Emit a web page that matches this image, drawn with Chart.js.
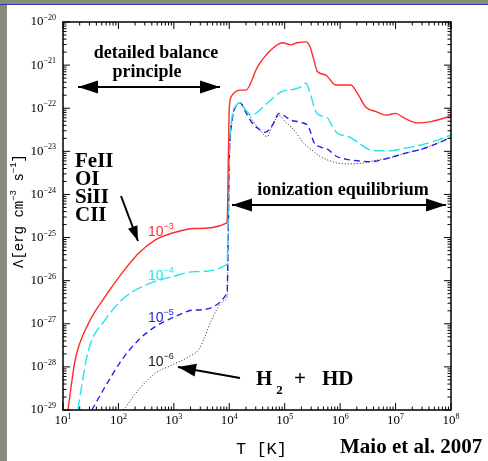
<!DOCTYPE html>
<html>
<head>
<meta charset="utf-8">
<script src="https://cdn.jsdelivr.net/npm/chart.js@4.4.1/dist/chart.umd.min.js"></script>
<style>
  html, body { margin: 0; padding: 0; background: #fff; }
  #wrap { position: relative; width: 488px; height: 461px; overflow: hidden; }
  #stripL { position: absolute; left: 0; top: 0; width: 7px; height: 461px; background: #8a8a7c; }
  #stripT { position: absolute; left: 0; top: 0; width: 488px; height: 4px; background: #8a8a7c; border-bottom: 1px solid #2a3aa8; }
  canvas { position: absolute; left: 0; top: 0; }
</style>
</head>
<body>
<div id="wrap">
  <div id="stripL"></div>
  <div id="stripT"></div>
  <canvas id="cooling" width="488" height="461"></canvas>
</div>
<script>
// values are log10(T [K]) and log10(Lambda [erg cm^-3 s^-1])
let xTicks = [1, 2, 3, 4, 5, 6, 7, 8]
let yTicks = [-20, -21, -22, -23, -24, -25, -26, -27, -28, -29]

let redT = [1.09, 1.22, 1.46, 1.76, 2.06, 2.36, 2.66, 2.96, 3.38, 3.96, 3.985, 4.0, 4.04, 4.10, 4.19, 4.30, 4.51, 4.75, 4.96, 5.11, 5.23, 5.38, 5.45, 5.52, 5.59, 5.74, 5.92, 6.19, 6.31, 6.46, 6.65, 6.83, 7.00, 7.16, 7.40, 7.64, 8.0]
let redL = [-29, -27.84, -26.99, -26.37, -25.83, -25.37, -25.06, -24.90, -24.79, -24.66, -23.0, -22.0, -21.72, -21.63, -21.58, -21.58, -21.04, -20.65, -20.48, -20.53, -20.48, -20.46, -20.55, -20.85, -21.15, -21.23, -21.46, -21.46, -21.65, -21.97, -22.08, -22.16, -22.12, -22.23, -22.34, -22.31, -22.18]

let cyanT = [1.265, 1.46, 1.76, 2.06, 2.36, 2.66, 2.96, 3.38, 3.96, 3.985, 4.0, 4.05, 4.12, 4.19, 4.30, 4.40, 4.50, 4.63, 4.80, 4.93, 5.04, 5.17, 5.30, 5.38, 5.47, 5.55, 5.62, 5.77, 5.85, 5.95, 6.16, 6.34, 6.55, 6.86, 7.16, 7.46, 7.76, 8.0]
let cyanL = [-29, -27.61, -26.91, -26.45, -26.18, -26.02, -25.91, -25.79, -25.62, -24.0, -23.0, -22.2, -21.95, -21.87, -22.05, -22.16, -22.10, -21.95, -21.75, -21.62, -21.58, -21.56, -21.50, -21.42, -21.70, -22.05, -22.16, -22.22, -22.40, -22.58, -22.66, -22.81, -22.97, -22.99, -22.93, -22.85, -22.74, -22.62]

let blueT = [1.52, 1.76, 2.06, 2.36, 2.66, 2.96, 3.38, 3.96, 3.985, 4.0, 4.05, 4.12, 4.19, 4.30, 4.40, 4.55, 4.65, 4.78, 4.90, 5.0, 5.10, 5.30, 5.43, 5.53, 5.65, 5.77, 5.94, 6.10, 6.31, 6.55, 6.86, 7.16, 7.52, 8.0]
let blueL = [-29, -28.46, -27.84, -27.38, -27.07, -26.87, -26.68, -26.29, -24.5, -23.2, -22.3, -21.95, -21.87, -22.10, -22.32, -22.50, -22.56, -22.39, -22.12, -22.18, -22.27, -22.33, -22.43, -22.80, -22.90, -22.95, -23.12, -23.18, -23.22, -23.24, -23.16, -23.05, -22.93, -22.68]

let blackT = [2.09, 2.36, 2.66, 2.96, 3.26, 3.44, 3.56, 3.68, 3.92, 3.96, 3.985, 4.0, 4.05, 4.12, 4.19, 4.30, 4.43, 4.55, 4.68, 4.78, 4.90, 5.0, 5.17, 5.34, 5.47, 5.64, 5.77, 6.07, 6.37, 6.67, 6.86, 7.16, 7.52, 8.0]
let blackL = [-29, -28.54, -28.15, -27.96, -27.77, -27.61, -27.30, -26.91, -26.45, -26.40, -24.8, -23.4, -22.3, -21.95, -21.87, -22.05, -22.30, -22.50, -22.66, -22.39, -22.17, -22.30, -22.51, -22.81, -22.95, -23.12, -23.20, -23.29, -23.28, -23.20, -23.16, -23.05, -22.93, -22.68]

let metallicity = ['-3', '-4', '-5', '-6']
let colRed = '#ff2b2b', colCyan = '#22e4f0', colBlue = '#2323e6', colBlack = '#222'

function pts(xs, ys) {
  return xs.map((x, i) => ({x: x, y: ys[i]}))
}

// text with a raised exponent
function supText(ctx, base, exp, x, y, f1, f2, rise, align) {
  ctx.font = f1
  let w1 = ctx.measureText(base).width
  ctx.font = f2
  let w2 = ctx.measureText(exp).width
  let x0 = x
  if (align === 'right') x0 = x - w1 - w2
  if (align === 'center') x0 = x - (w1 + w2) / 2
  ctx.textAlign = 'left'
  ctx.textBaseline = 'middle'
  ctx.font = f1
  ctx.fillText(base, x0, y)
  ctx.font = f2
  ctx.fillText(exp, x0 + w1, y - rise)
  return x0 + w1 + w2
}

function arrowHead(ctx, x1, y1, x2, y2, len, half) {
  let a = Math.atan2(y2 - y1, x2 - x1)
  ctx.beginPath()
  ctx.moveTo(x2, y2)
  ctx.lineTo(x2 - len * Math.cos(a) + half * Math.sin(a), y2 - len * Math.sin(a) - half * Math.cos(a))
  ctx.lineTo(x2 - len * Math.cos(a) - half * Math.sin(a), y2 - len * Math.sin(a) + half * Math.cos(a))
  ctx.closePath()
  ctx.fill()
}

function arrow(ctx, x1, y1, x2, y2, both, len, half) {
  ctx.beginPath()
  ctx.moveTo(x1, y1)
  ctx.lineTo(x2, y2)
  ctx.stroke()
  arrowHead(ctx, x1, y1, x2, y2, len, half)
  if (both) arrowHead(ctx, x2, y2, x1, y1, len, half)
}

let framePlugin = {
  id: 'frame',
  afterDraw(chart) {
    let ctx = chart.ctx
    let a = chart.chartArea
    let sx = chart.scales.x, sy = chart.scales.y
    ctx.save()
    ctx.strokeStyle = '#000'
    ctx.fillStyle = '#000'
    ctx.lineWidth = 1.5
    ctx.strokeRect(a.left, a.top, a.right - a.left, a.bottom - a.top)

    // inward ticks on all four sides
    ctx.lineWidth = 1
    ctx.beginPath()
    xTicks.forEach(d => {
      for (let k = 1; k <= 9; k++) {
        let v = d + Math.log10(k)
        if (v > 8) break
        let px = sx.getPixelForValue(v)
        let len = k === 1 ? 7 : 3.5
        ctx.moveTo(px, a.bottom); ctx.lineTo(px, a.bottom - len)
        ctx.moveTo(px, a.top); ctx.lineTo(px, a.top + len)
      }
    })
    yTicks.forEach(d => {
      for (let k = 1; k <= 9; k++) {
        let v = d + Math.log10(k)
        if (v > -20) break
        let py = sy.getPixelForValue(v)
        let len = k === 1 ? 7 : 3.5
        ctx.moveTo(a.left, py); ctx.lineTo(a.left + len, py)
        ctx.moveTo(a.right, py); ctx.lineTo(a.right - len, py)
      }
    })
    ctx.stroke()

    // tick labels
    ctx.fillStyle = '#000'
    yTicks.forEach(d => {
      supText(ctx, '10', '\u2212' + Math.abs(d), a.left - 7, sy.getPixelForValue(d), '13px "Liberation Serif"', '8px "Liberation Serif"', 4, 'right')
    })
    xTicks.forEach(d => {
      supText(ctx, '10', String(d), sx.getPixelForValue(d), a.bottom + 11, '13px "Liberation Serif"', '8px "Liberation Serif"', 4, 'center')
    })

    // axis titles
    ctx.save()
    ctx.translate(19, 268)
    ctx.rotate(-Math.PI / 2)
    let px = supText(ctx, '\u039b[erg cm', '\u22123', 0, 0, '14px "Liberation Mono"', '9px "Liberation Mono"', 5, 'left')
    px = supText(ctx, ' s', '\u22121', px, 0, '14px "Liberation Mono"', '9px "Liberation Mono"', 5, 'left')
    ctx.font = '14px "Liberation Mono"'
    ctx.fillText(']', px, 0)
    ctx.restore()

    ctx.font = '17px "Liberation Mono"'
    ctx.textAlign = 'left'
    ctx.textBaseline = 'middle'
    ctx.fillText('T [K]', 236, 449)
    ctx.font = 'bold 21px "Liberation Serif"'
    ctx.fillText('Maio et al. 2007', 340, 448)

    // annotations
    ctx.font = 'bold 18px "Liberation Serif"'
    ctx.textAlign = 'center'
    ctx.fillText('detailed balance', 156, 53)
    ctx.fillText('principle', 147, 72)
    ctx.fillText('ionization equilibrium', 343, 190)
    ctx.lineWidth = 2
    arrow(ctx, 78, 87, 220, 87, true, 20, 6.5)
    arrow(ctx, 232, 205, 446, 205, true, 20, 6.5)

    ctx.textAlign = 'left'
    ctx.font = 'bold 21px "Liberation Serif"'
    ;['FeII', 'OI', 'SiII', 'CII'].forEach((s, i) => ctx.fillText(s, 75, 162 + i * 18))
    arrow(ctx, 121, 196, 138, 241, false, 15, 5)

    ctx.font = 'bold 21px "Liberation Serif"'
    ctx.fillText('H', 256, 380)
    let hw = ctx.measureText('H').width
    ctx.font = 'bold 13px "Liberation Serif"'
    ctx.fillText('2', 256 + hw + 4, 391)
    ctx.font = 'bold 21px "Liberation Serif"'
    ctx.fillText('+', 294, 380)
    ctx.fillText('HD', 322, 380)
    arrow(ctx, 240, 378, 178, 367, false, 18, 6.5)

    // metallicity labels
    let cols = [colRed, colCyan, colBlue, colBlack]
    let ys = [232, 276, 318, 362]
    metallicity.forEach((m, i) => {
      ctx.fillStyle = cols[i]
      supText(ctx, '10', m.replace('-', '\u2212'), 148, ys[i], '14px "Liberation Sans"', '9px "Liberation Sans"', 5, 'left')
    })
    ctx.restore()
  }
}

let chart = new Chart(document.getElementById('cooling').getContext('2d'), {
  type: 'line',
  data: {
    datasets: [
      {data: pts(redT, redL), borderColor: colRed, borderWidth: 1.4},
      {data: pts(cyanT, cyanL), borderColor: colCyan, borderWidth: 1.4, borderDash: [11, 4]},
      {data: pts(blueT, blueL), borderColor: colBlue, borderWidth: 1.4, borderDash: [6, 4]},
      {data: pts(blackT, blackL), borderColor: colBlack, borderWidth: 1, borderDash: [1, 2]}
    ]
  },
  options: {
    responsive: false,
    animation: false,
    devicePixelRatio: 1,
    layout: {padding: {left: 63, right: 37, top: 22, bottom: 51}},
    elements: {
      point: {radius: 0},
      line: {cubicInterpolationMode: 'monotone', fill: false}
    },
    plugins: {legend: {display: false}, tooltip: {enabled: false}},
    scales: {
      x: {type: 'linear', min: 1, max: 8, display: false},
      y: {type: 'linear', min: -29, max: -20, display: false}
    }
  },
  plugins: [framePlugin]
})
</script>
</body>
</html>
